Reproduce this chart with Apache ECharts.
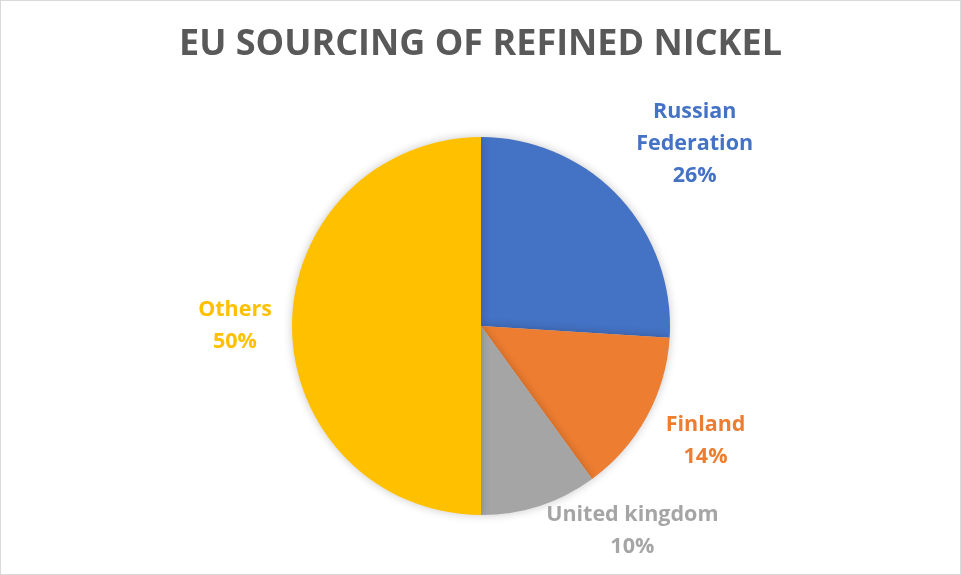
<!DOCTYPE html>
<html>
<head>
<meta charset="utf-8">
<script src="https://cdn.jsdelivr.net/npm/echarts@6/dist/echarts.min.js"></script>
<style>
  html, body { margin: 0; padding: 0; background: #fff; }
  #chart { width: 961px; height: 575px; box-sizing: border-box; border: 1px solid #d9d9d9; }
</style>
</head>
<body>
<div id="chart"></div>
<script>
// Sources of refined nickel imported into the EU (share, %)
const categories = ['Russian Federation', 'Finland', 'United kingdom', 'Others'];
const shares = [26, 14, 10, 50];
const labelNames = ['Russian\nFederation', 'Finland', 'United kingdom', 'Others'];
const colors = ['#4472C4', '#ED7D31', '#A5A5A5', '#FFC000'];

// Label placement around the pie: extra distance beyond the rim and an angular nudge (degrees)
const labelGap = [92, 63, 66, 57];
const labelTurn = [2.7, -1.8, -18.4, 0];

const CX = 480, CY = 325, R = 189;

const total = shares.reduce((a, b) => a + b, 0);
const midAngles = [];
let acc = 0;
shares.forEach(v => { midAngles.push((acc + v / 2) / total * 360); acc += v; });

const chart = echarts.init(document.getElementById('chart'));
chart.setOption({
  backgroundColor: '#fff',
  title: {
    text: 'EU SOURCING OF REFINED NICKEL',
    left: 'center',
    top: 21,
    textStyle: { fontFamily: 'Open Sans', fontWeight: 'bold', fontSize: 36, color: '#595959' }
  },
  series: [{
    type: 'pie',
    center: [CX, CY],
    radius: [0, R],
    startAngle: 90,
    clockwise: true,
    animation: false,
    itemStyle: { shadowBlur: 10, shadowColor: 'rgba(0,0,0,0.22)' },
    data: categories.map((c, i) => ({
      name: c,
      value: shares[i],
      itemStyle: { color: colors[i] },
      label: { color: colors[i] }
    })),
    label: {
      show: true,
      position: 'outside',
      formatter: p => labelNames[p.dataIndex] + '\n' + p.value + '%',
      fontFamily: 'Open Sans',
      fontWeight: 'bold',
      fontSize: 21.5,
      lineHeight: 32,
      align: 'center'
    },
    labelLine: { show: false },
    labelLayout: p => {
      const i = p.dataIndex;
      const a = (midAngles[i] + labelTurn[i]) * Math.PI / 180;
      const d = R + labelGap[i];
      return {
        x: CX + d * Math.sin(a),
        y: CY - d * Math.cos(a),
        align: 'center',
        verticalAlign: 'middle'
      };
    }
  }]
});
</script>
</body>
</html>
